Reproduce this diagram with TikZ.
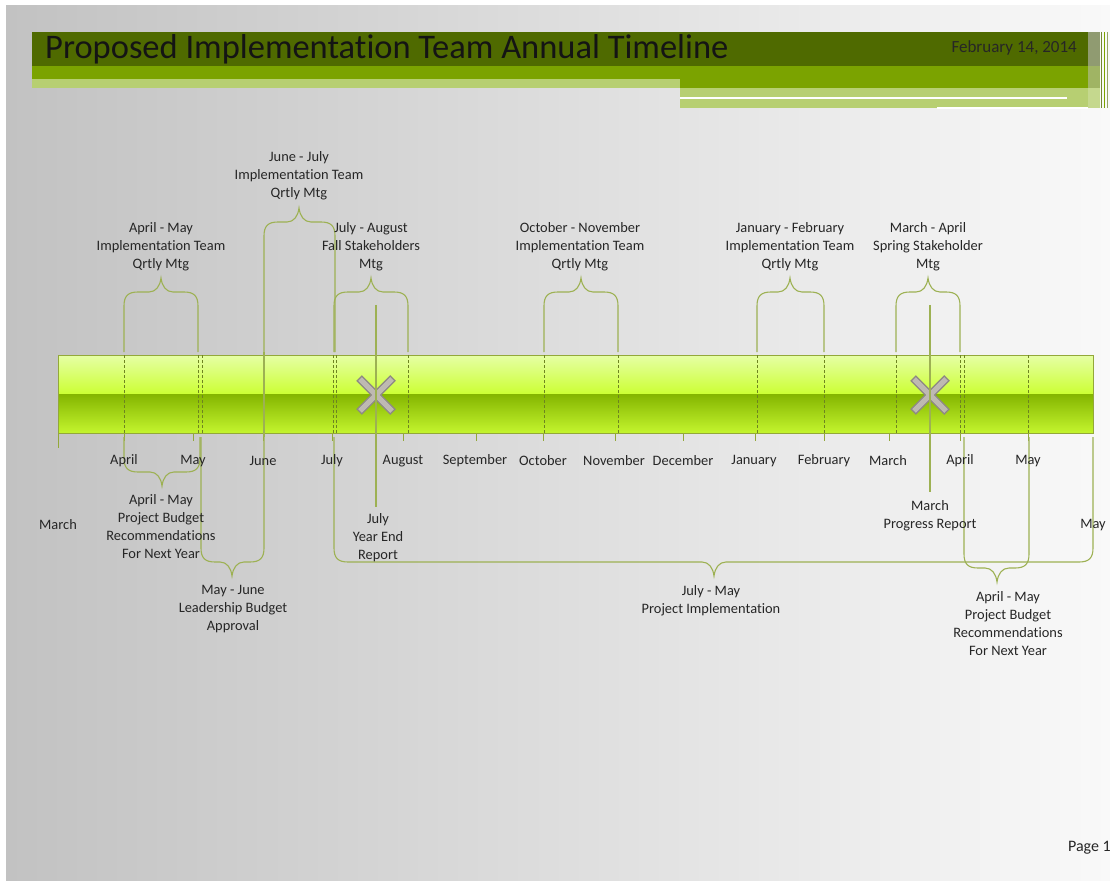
\documentclass[tikz,border=0pt]{standalone}
\usepackage{fontspec}
\setmainfont{Carlito}[Ligatures=NoCommon]
\definecolor{bgl}{HTML}{C2C2C2}
\definecolor{bgr}{HTML}{F9F9F9}
\definecolor{darkband}{HTML}{4F6A00}
\definecolor{greenband}{HTML}{7BA300}
\definecolor{lightband}{HTML}{B7CF72}
\definecolor{barA}{HTML}{E6FFA6}
\definecolor{barB}{HTML}{CCFF33}
\definecolor{barC}{HTML}{84B500}
\definecolor{barD}{HTML}{C4F52E}
\definecolor{baredge}{HTML}{93A83A}
\definecolor{brccol}{HTML}{9DB153}
\definecolor{dashcol}{HTML}{6E8420}
\definecolor{txt}{HTML}{262626}
\definecolor{xdark}{HTML}{8E8982}
\definecolor{xlight}{HTML}{BEB9B2}
\newcommand\UpBrace[5]{% xl xr xm tipy armbottom
  \draw[brc] (#1,#5) -- (#1,#4+28) .. controls (#1,#4+18) and (#1+4,#4+14) .. (#1+14,#4+14)
    -- (#3-12,#4+14) .. controls (#3-5,#4+14) and (#3-1,#4+8) .. (#3,#4)
    .. controls (#3+1,#4+8) and (#3+5,#4+14) .. (#3+12,#4+14)
    -- (#2-14,#4+14) .. controls (#2-4,#4+14) and (#2,#4+18) .. (#2,#4+28) -- (#2,#5);}
\newcommand\DnBrace[5]{% xl xr xm tipy armtop
  \draw[brc] (#1,#5) -- (#1,#4-28) .. controls (#1,#4-18) and (#1+4,#4-14) .. (#1+14,#4-14)
    -- (#3-12,#4-14) .. controls (#3-5,#4-14) and (#3-1,#4-8) .. (#3,#4)
    .. controls (#3+1,#4-8) and (#3+5,#4-14) .. (#3+12,#4-14)
    -- (#2-14,#4-14) .. controls (#2-4,#4-14) and (#2,#4-18) .. (#2,#4-28) -- (#2,#5);}
\newcommand\XMark[2]{%
  \draw[xdark, line width=8pt] (#1-17,#2-17) -- (#1+17,#2+17) (#1-17,#2+17) -- (#1+17,#2-17);
  \draw[xlight, line width=5pt] (#1-16,#2-16) -- (#1+16,#2+16) (#1-16,#2+16) -- (#1+16,#2-16);}
\begin{document}
\begin{tikzpicture}[x=1pt,y=-1pt,
  brc/.style={draw=brccol, line width=1.1pt},
  dsh/.style={draw=dashcol, line width=0.6pt, dash pattern=on 3pt off 2pt},
  tick/.style={draw=baredge, line width=0.8pt},
  lbl/.style={font=\fontsize{14.4}{18}\selectfont, text=txt, align=center, inner sep=0pt, anchor=north},
  mon/.style={font=\fontsize{14.4}{18}\selectfont, text=txt, inner sep=0pt}]
\useasboundingbox (0,0) rectangle (1110,882);
\fill[white] (0,0) rectangle (1110,882);
\shade[left color=bgl, right color=bgr] (6,6) rectangle (1110,880);
% header
\fill[darkband] (32,32) rectangle (1088,66);
\fill[greenband] (32,66) rectangle (1088,88);
\fill[lightband] (32,79) rectangle (680,88);
\fill[lightband] (680,88) rectangle (1088,108);
\fill[white] (680,97) rectangle (1067,99.5);
\fill[white] (937,107) rectangle (1088,109);
\fill[darkband!55!gray, opacity=0.7] (1088,32) rectangle (1100,66);
\fill[greenband!70!gray, opacity=0.7] (1088,66) rectangle (1100,88);
\fill[lightband!80!white] (1088,88) rectangle (1100,108);
\draw[darkband!80, line width=1.5pt] (1101.5,32) -- (1101.5,108);
\draw[greenband, line width=1pt] (1104.5,32) -- (1104.5,108);
\draw[darkband!60, line width=0.8pt] (1107,32) -- (1107,108);
\node[font=\fontsize{34.5}{40}\selectfont, text=black!92, anchor=base west, inner sep=0pt] (title) at (45,59) {Proposed Implementation Team Annual Timeline};
\node[font=\fontsize{17}{20}\selectfont, text=black!85, anchor=base east, inner sep=0pt] (date) at (1077,53) {February 14, 2014};
% bar
\shade[top color=barA, bottom color=barB] (58,355) rectangle (1093,394);
\shade[top color=barC, bottom color=barD] (58,394) rectangle (1093,433);
\draw[baredge, line width=0.8pt] (58,355) rectangle (1093,433);
% dashed lines in the bar
\foreach \x in {124,198,202,333,336,408,544,618,757,824,896,960,964,1028}
  \draw[dsh] (\x,355) -- (\x,433);
% ticks
\draw[tick] (58,433) -- (58,448);
\foreach \x in {124,193,263,332,403,476,543,615,683,755,824,889,960,1028}
  \draw[tick] (\x,433) -- (\x,441);
% upper braces
\UpBrace{124}{198}{161}{278}{352}
\UpBrace{264}{335}{299}{208}{352}
\draw[brc] (264,352) -- (264,437);
\UpBrace{334}{408}{371}{278}{352}
\UpBrace{544}{618}{581}{278}{352}
\UpBrace{757}{824}{790}{278}{352}
\UpBrace{896}{960}{928}{278}{352}
% lower braces
\DnBrace{124}{200}{162}{486}{437}
\DnBrace{201}{264}{232}{576}{437}
\DnBrace{334}{1093}{714}{576}{437}
\DnBrace{964}{1029}{997}{582}{437}
% milestones
\XMark{376}{395}
\XMark{930}{395}
\draw[brc] (376,305) -- (376,507);
\draw[brc] (930,305) -- (930,492);
% upper labels
\node[lbl] (l1) at (161,222) {April - May\\Implementation Team\\Qrtly Mtg};
\node[lbl] (l2) at (299,151) {June - July\\Implementation Team\\Qrtly Mtg};
\node[lbl] (l3) at (371,222) {July - August\\Fall Stakeholders\\Mtg};
\node[lbl] (l4) at (580,222) {October - November\\Implementation Team\\Qrtly Mtg};
\node[lbl] (l5) at (790,222) {January - February\\Implementation Team\\Qrtly Mtg};
\node[lbl] (l6) at (928,222) {March - April\\Spring Stakeholder\\Mtg};
% months
\foreach \x/\m [count=\i] in {124/April,193/May,263/June,332/July,403/August,475/September,543/October,614/November,683/December,754/January,824/February,888/March,960/April,1028/May}
  \node[mon] (m\i) at (\x,461) {\m};
\node[mon] (mstart) at (58,525) {March};
\node[mon] (mend) at (1093,525) {May};
% lower labels
\node[lbl] (b1) at (161,494) {April - May\\Project Budget\\Recommendations\\For Next Year};
\node[lbl] (b2) at (378,513) {July\\Year End\\Report};
\node[lbl] (b3) at (233,585) {May - June\\Leadership Budget\\Approval};
\node[lbl] (b4) at (711,585) {July - May\\Project Implementation};
\node[lbl] (b5) at (930,500) {March\\Progress Report};
\node[lbl] (b6) at (1008,591) {April - May\\Project Budget\\Recommendations\\For Next Year};
\node[font=\fontsize{16}{18}\selectfont, text=black!85, anchor=base east, inner sep=0pt] (page) at (1111,851) {Page 1};
\end{tikzpicture}
\end{document}
